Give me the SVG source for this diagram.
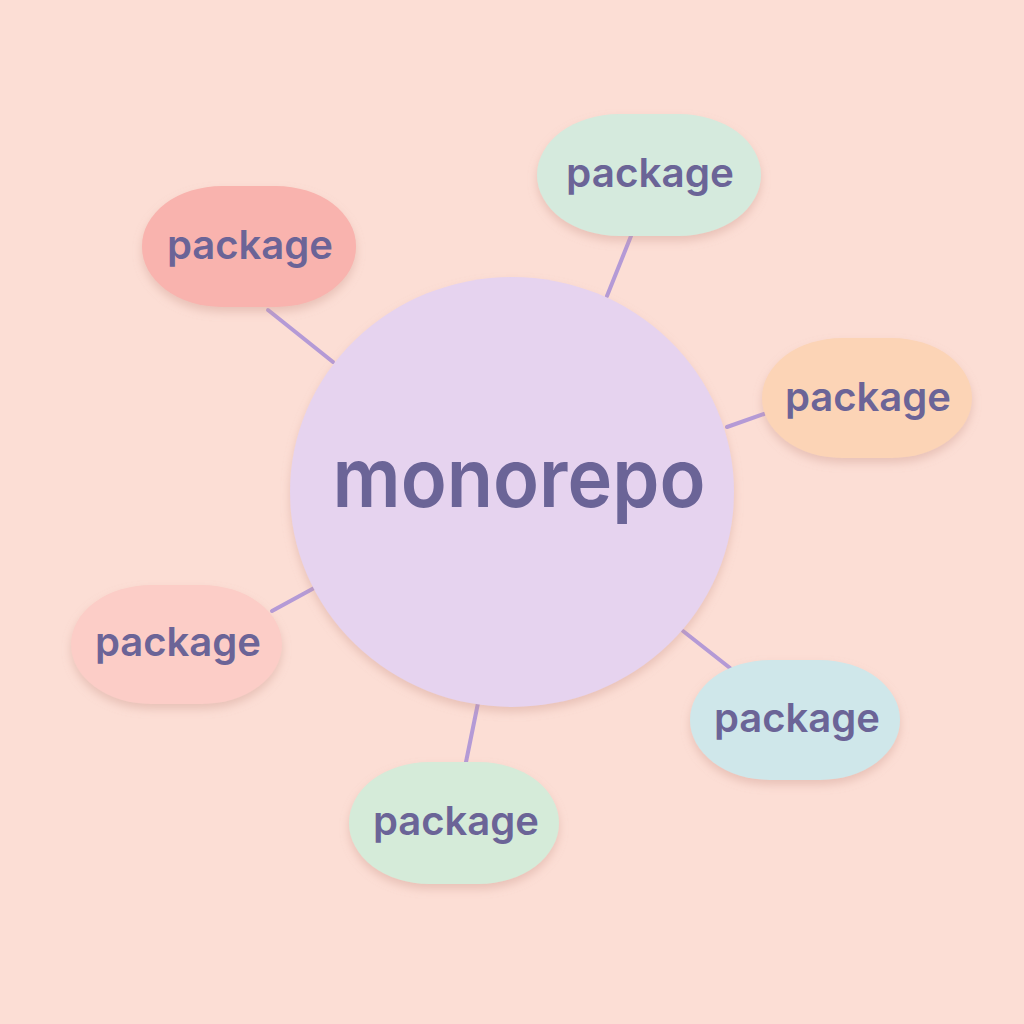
<svg xmlns="http://www.w3.org/2000/svg" width="1024" height="1024" viewBox="0 0 1024 1024">
<defs>
<filter id="sh" x="-20%" y="-20%" width="140%" height="150%">
<feDropShadow dx="0" dy="5" stdDeviation="5" flood-color="#C9958A" flood-opacity="0.4"/>
</filter>
<style>
.pkg{filter:url(#sh)}
.lbl{font-family:Inter,"Open Sans",sans-serif;font-weight:600;fill:#6B6497;text-anchor:middle}
.con{stroke:#B49AD6;stroke-width:4;stroke-linecap:round;fill:none}
</style>
</defs>
<rect width="1024" height="1024" fill="#FCDED5"/>
<g id="connectors">
<line class="con" x1="268" y1="310" x2="333" y2="362"/>
<line class="con" x1="631" y1="236" x2="607" y2="296"/>
<line class="con" x1="764" y1="414" x2="727" y2="427"/>
<line class="con" x1="272" y1="611" x2="316" y2="587"/>
<line class="con" x1="683" y1="631" x2="730" y2="668"/>
<line class="con" x1="478" y1="703" x2="466" y2="762"/>
</g>
<g id="monorepo">
<ellipse cx="512" cy="492" rx="222" ry="215" fill="#E6D3EF" class="pkg"/>
<text class="lbl" x="519" y="507" font-size="82" textLength="373" lengthAdjust="spacingAndGlyphs">monorepo</text>
</g>
<g id="pkg1"><rect class="pkg" x="142" y="186" width="214" height="121" rx="80" ry="60" fill="#F9B3AE"/><text class="lbl" x="250" y="259" font-size="40" textLength="166" lengthAdjust="spacingAndGlyphs">package</text></g>
<g id="pkg2"><rect class="pkg" x="537" y="114" width="224" height="122" rx="82" ry="61" fill="#D5EADD"/><text class="lbl" x="650" y="187" font-size="40" textLength="168" lengthAdjust="spacingAndGlyphs">package</text></g>
<g id="pkg3"><rect class="pkg" x="762" y="338" width="210" height="120" rx="80" ry="60" fill="#FCD4B6"/><text class="lbl" x="868" y="411" font-size="40" textLength="166" lengthAdjust="spacingAndGlyphs">package</text></g>
<g id="pkg4"><rect class="pkg" x="71" y="585" width="211" height="119" rx="80" ry="60" fill="#FCCDC7"/><text class="lbl" x="178" y="656" font-size="40" textLength="166" lengthAdjust="spacingAndGlyphs">package</text></g>
<g id="pkg5"><rect class="pkg" x="690" y="660" width="210" height="120" rx="80" ry="60" fill="#CFE7EA"/><text class="lbl" x="797" y="732" font-size="40" textLength="166" lengthAdjust="spacingAndGlyphs">package</text></g>
<g id="pkg6"><rect class="pkg" x="349" y="762" width="210" height="122" rx="80" ry="61" fill="#D5EBD9"/><text class="lbl" x="456" y="835" font-size="40" textLength="166" lengthAdjust="spacingAndGlyphs">package</text></g>
</svg>
